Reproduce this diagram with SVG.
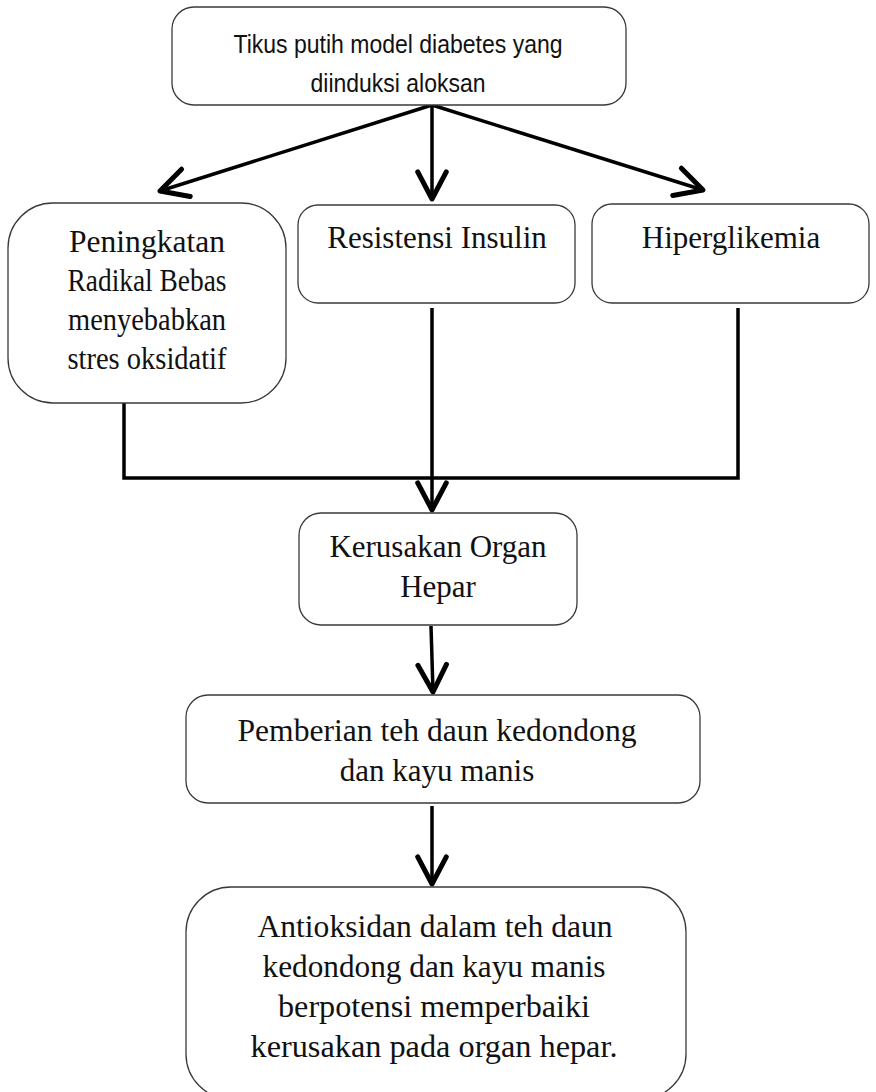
<svg xmlns="http://www.w3.org/2000/svg" width="876" height="1092" viewBox="0 0 876 1092">
<style>
.box{fill:#fff;stroke:#3a3a3a;stroke-width:1.3}
.sans{font-family:"Liberation Sans",Arial,sans-serif;font-size:26px;fill:#111;text-anchor:middle}
.serif{font-family:"Liberation Serif","Times New Roman",serif;font-size:31px;fill:#111;text-anchor:middle}
.con{fill:none;stroke:#000;stroke-width:3.5}
</style>
<defs>
<marker id="ah" markerUnits="userSpaceOnUse" markerWidth="40" markerHeight="40" viewBox="-22 -14 26 28" refX="0" refY="0" orient="auto" overflow="visible">
<path d="M-19,-10 L0,0 L-19,10" fill="none" stroke="#000" stroke-width="3.5" stroke-linejoin="round" stroke-linecap="round"/>
</marker>
</defs>
<rect width="876" height="1092" fill="#fff"/>
<g id="connectors">
<line class="con" x1="432" y1="105" x2="160" y2="191" marker-end="url(#ah)"/>
<line class="con" x1="432" y1="105" x2="432" y2="199" marker-end="url(#ah)"/>
<line class="con" x1="432" y1="105" x2="703" y2="190" marker-end="url(#ah)"/>
<polyline class="con" points="124,403 124,478 738,478 738,308"/>
<line class="con" x1="432" y1="308" x2="432" y2="510" marker-end="url(#ah)"/>
<line class="con" x1="431" y1="626" x2="433" y2="692" marker-end="url(#ah)"/>
<line class="con" x1="432" y1="806" x2="432" y2="884" marker-end="url(#ah)"/>
</g>
<g id="node-tikus">
<rect class="box" x="172" y="7" width="454" height="98" rx="22"/>
<text class="sans" x="398" y="53" textLength="329" lengthAdjust="spacingAndGlyphs">Tikus putih model diabetes yang</text>
<text class="sans" x="398" y="92" textLength="175" lengthAdjust="spacingAndGlyphs">diinduksi aloksan</text>
</g>
<g id="node-radikal">
<rect class="box" x="8" y="203" width="278" height="200" rx="45"/>
<text class="serif" x="147" y="252" textLength="156" lengthAdjust="spacingAndGlyphs">Peningkatan</text>
<text class="serif" x="147" y="291" textLength="159" lengthAdjust="spacingAndGlyphs">Radikal Bebas</text>
<text class="serif" x="147" y="330" textLength="158" lengthAdjust="spacingAndGlyphs">menyebabkan</text>
<text class="serif" x="147" y="369" textLength="159" lengthAdjust="spacingAndGlyphs">stres oksidatif</text>
</g>
<g id="node-resistensi">
<rect class="box" x="298" y="205" width="277" height="98" rx="20"/>
<text class="serif" x="437" y="248">Resistensi Insulin</text>
</g>
<g id="node-hiperglikemia">
<rect class="box" x="592" y="204" width="277" height="99" rx="20"/>
<text class="serif" x="731" y="248">Hiperglikemia</text>
</g>
<g id="node-kerusakan">
<rect class="box" x="299" y="513" width="278" height="112" rx="22"/>
<text class="serif" x="438" y="557">Kerusakan Organ</text>
<text class="serif" x="438" y="597">Hepar</text>
</g>
<g id="node-pemberian">
<rect class="box" x="186" y="695" width="514" height="108" rx="22"/>
<text class="serif" x="437" y="741" textLength="399" lengthAdjust="spacingAndGlyphs">Pemberian teh daun kedondong</text>
<text class="serif" x="437" y="781">dan kayu manis</text>
</g>
<g id="node-antioksidan">
<rect class="box" x="186" y="887" width="500" height="212" rx="45"/>
<text class="serif" x="435" y="937" textLength="355" lengthAdjust="spacingAndGlyphs">Antioksidan dalam teh daun</text>
<text class="serif" x="434" y="977" textLength="343" lengthAdjust="spacingAndGlyphs">kedondong dan kayu manis</text>
<text class="serif" x="434" y="1017" textLength="312" lengthAdjust="spacingAndGlyphs">berpotensi memperbaiki</text>
<text class="serif" x="434" y="1057" textLength="367" lengthAdjust="spacingAndGlyphs">kerusakan pada organ hepar.</text>
</g>
</svg>
